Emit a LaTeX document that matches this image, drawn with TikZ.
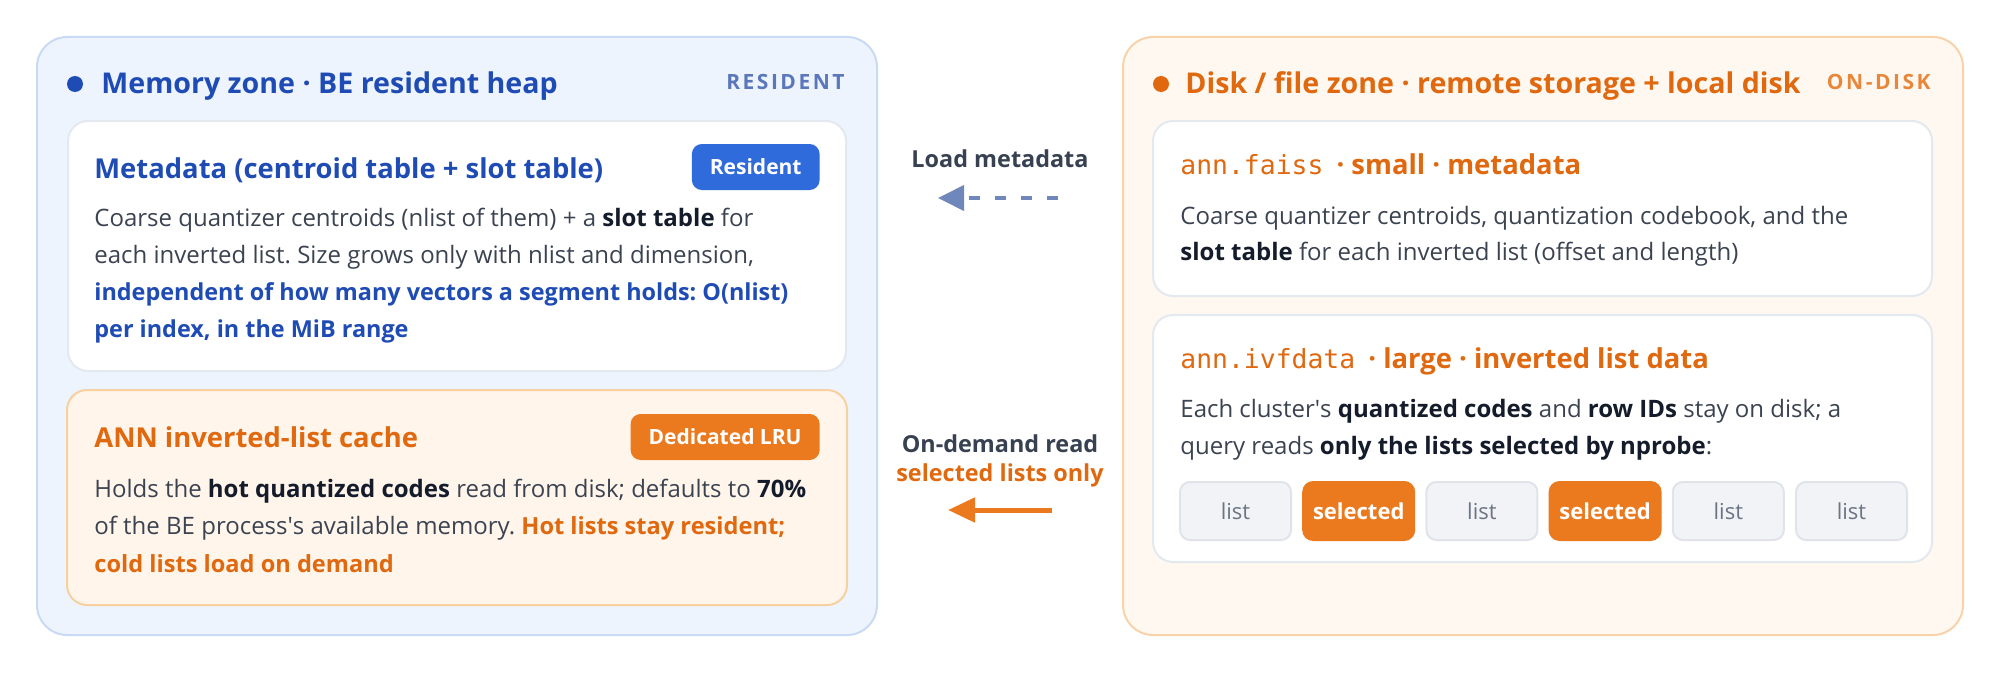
\documentclass[tikz,border=0pt]{standalone}
\usepackage{fontspec}
\setmainfont{Open Sans}
\setmonofont{DejaVu Sans Mono}
\usetikzlibrary{arrows.meta}

\definecolor{memfill}{HTML}{EEF4FE}
\definecolor{memline}{HTML}{C9DAF4}
\definecolor{memblue}{HTML}{1F4BB4}
\definecolor{tagblue}{HTML}{5B77BB}
\definecolor{badgeblue}{HTML}{2F6BDB}
\definecolor{cardline}{HTML}{E4E8EF}
\definecolor{cachefill}{HTML}{FFF5EB}
\definecolor{cacheline}{HTML}{F7D0A0}
\definecolor{diskfill}{HTML}{FFF8F1}
\definecolor{diskline}{HTML}{F8D3AA}
\definecolor{darkorange}{HTML}{E0680F}
\definecolor{badgeorange}{HTML}{EB7A1F}
\definecolor{tagorange}{HTML}{E8873A}
\definecolor{bodytext}{HTML}{3B4351}
\definecolor{strongtext}{HTML}{141B2B}
\definecolor{midtext}{HTML}{374151}
\definecolor{arrowblue}{HTML}{6F87BA}
\definecolor{chipfill}{HTML}{F1F3F7}
\definecolor{chipline}{HTML}{E0E4EA}
\definecolor{chiptext}{HTML}{6B7482}

\newcommand\zonefont{\fontsize{14.3}{17}\selectfont\bfseries}
\newcommand\tagfont{\fontsize{10.5}{12}\selectfont\bfseries\addfontfeatures{LetterSpace=12}}
\newcommand\cardfont{\fontsize{13.7}{16}\selectfont\bfseries}
\newcommand\badgefont{\fontsize{10.5}{12}\selectfont\bfseries}
\newcommand\bodyfont{\fontsize{12}{14}\selectfont}
\newcommand\codefont{\fontsize{13.2}{16}\selectfont\ttfamily\mdseries}
\newcommand\midfont{\fontsize{11.7}{14}\selectfont\bfseries}
\newcommand\chipfont{\fontsize{11}{13}\selectfont}
\newcommand\hl[1]{{\bfseries\color{strongtext}#1}}
\newcommand\bluebold[1]{{\fontsize{11.7}{14}\selectfont\bfseries\color{memblue}#1}}
\newcommand\orangebold[1]{{\fontsize{11.8}{14}\selectfont\bfseries\color{darkorange}#1}}
\frenchspacing

\tikzset{
  zone/.style={rounded corners=15pt, line width=1pt},
  card/.style={rounded corners=10pt, line width=1pt, draw=cardline, fill=white},
  badge/.style={rounded corners=5pt, fill=#1, text=white, font=\badgefont,
    inner xsep=9pt, inner ysep=0pt, minimum height=23pt, anchor=east},
  txt/.style={anchor=base west, inner sep=0pt},
  chip/.style={rounded corners=5pt, line width=1pt, minimum width=55.5pt,
    minimum height=29pt, inner sep=0pt, font=\chipfont},
  chiplist/.style={chip, draw=chipline, fill=chipfill, text=chiptext},
  chipselected/.style={chip, draw=badgeorange, fill=badgeorange, text=white,
    font=\chipfont\bfseries}
}

\begin{document}
\begin{tikzpicture}[x=0.5pt,y=-0.5pt]
\useasboundingbox (0,0) rectangle (2000,674);

% zones
\draw[zone,fill=memfill,draw=memline] (37,37) rectangle (877,635);
\draw[zone,fill=diskfill,draw=diskline] (1123,37) rectangle (1963,635);

% memory zone
\fill[memblue] (75,84) circle[radius=4pt];
\node[txt,font=\zonefont,text=memblue] (memtitle) at (101,94) {Memory zone · BE resident heap};
\node[txt,anchor=base east,font=\tagfont,text=tagblue] (memtag) at (845,90) {RESIDENT};

\draw[card] (68,121) rectangle (846,371);
\node[txt,font=\cardfont,text=memblue] (metatitle) at (94,178) {Metadata (centroid table + slot table)};
\node[badge=badgeblue] (metabadge) at (820,167) {Resident};
\foreach \i/\y/\t in {1/226/{Coarse quantizer centroids (nlist of them) + a \hl{slot table} for},
    2/263/{each inverted list. Size grows only with nlist and dimension,},
    3/300/{\bluebold{independent of how many vectors a segment holds: O(nlist)}},
    4/337/{\bluebold{per index, in the MiB range}}}
  \node[txt,font=\bodyfont,text=bodytext] (metaline\i) at (94,\y) {\t};

\draw[card,fill=cachefill,draw=cacheline] (67,390) rectangle (847,605);
\node[txt,font=\cardfont,text=darkorange] (cachetitle) at (94,447) {ANN inverted-list cache};
\node[badge=badgeorange] (cachebadge) at (820,437) {Dedicated LRU};
\foreach \i/\y/\t in {1/497/{Holds the \hl{hot quantized codes} read from disk; defaults to \hl{70\%}},
    2/534/{of the BE process\textquotesingle s available memory. \orangebold{Hot lists stay resident;}},
    3/572/{\orangebold{cold lists load on demand}}}
  \node[txt,font=\bodyfont,text=bodytext] (cacheline\i) at (94,\y) {\t};

% disk zone
\fill[darkorange] (1161,84) circle[radius=4pt];
\node[txt,font=\zonefont,text=darkorange] (disktitle) at (1185,94) {Disk / file zone · remote storage + local disk};
\node[txt,anchor=base east,font=\tagfont,text=tagorange] (disktag) at (1931,90) {ON-DISK};

\draw[card] (1153,121) rectangle (1932,296);
\node[txt,font=\cardfont,text=darkorange] (faisstitle) at (1180,174) {{\codefont ann.faiss}\hspace{3pt} · small · metadata};
\foreach \i/\y/\t in {1/224/{Coarse quantizer centroids, quantization codebook, and the},
    2/260/{\hl{slot table} for each inverted list (offset and length)}}
  \node[txt,font=\bodyfont,text=bodytext] (faissline\i) at (1180,\y) {\t};

\draw[card] (1153,315) rectangle (1932,562);
\node[txt,font=\cardfont,text=darkorange] (ivftitle) at (1180,368) {{\codefont ann.ivfdata}\hspace{3pt} · large · inverted list data};
\foreach \i/\y/\t in {1/417/{Each cluster\textquotesingle s \hl{quantized codes} and \hl{row IDs} stay on disk; a},
    2/454/{query reads \hl{only the lists selected by nprobe}:}}
  \node[txt,font=\bodyfont,text=bodytext] (ivfline\i) at (1180,\y) {\t};

\foreach \i/\s/\t in {0/chiplist/list,1/chipselected/selected,2/chiplist/list,
    3/chipselected/selected,4/chiplist/list,5/chiplist/list}
  \node[\s] (chip\i) at (1235.5+123.2*\i,511) {\t};

% transfers between zones
\node[anchor=base,font=\midfont,text=midtext] (loadlabel) at (1000,167) {Load metadata};
\coordinate (loadfrom) at (1058,198);
\coordinate (loadto) at (938,198);
\draw[arrowblue,line width=2pt,dash pattern=on 5.5pt off 7.5pt,
  -{Triangle[length=13pt,width=12.5pt]}] (loadfrom) -- (loadto);

\node[anchor=base,font=\midfont,text=midtext] (readlabel) at (1000,452) {On-demand read};
\node[anchor=base,font=\midfont,text=darkorange] (readsub) at (1000,481) {selected lists only};
\coordinate (readfrom) at (1052,510);
\coordinate (readto) at (948,510);
\draw[badgeorange,line width=2.5pt,-{Triangle[length=13.5pt,width=12pt]}] (readfrom) -- (readto);

\end{tikzpicture}
\end{document}
